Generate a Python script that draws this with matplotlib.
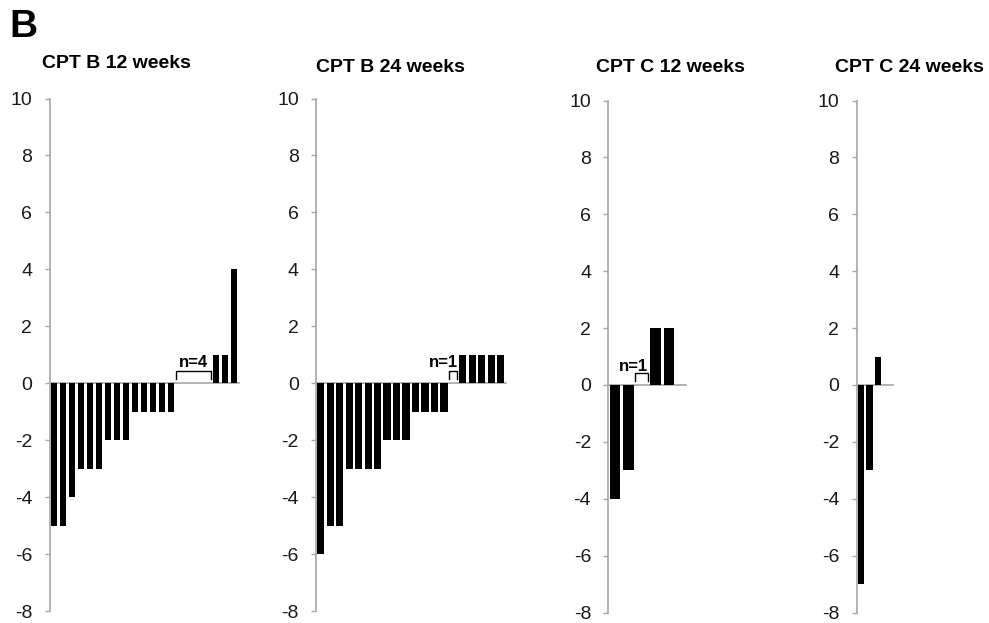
import matplotlib
matplotlib.use("Agg")
import matplotlib.pyplot as plt

# ---- data ----
panel_letter = "B"
titles = ["CPT B 12 weeks", "CPT B 24 weeks", "CPT C 12 weeks", "CPT C 24 weeks"]
cpt_b_12 = [-5, -5, -4, -3, -3, -3, -2, -2, -2, -1, -1, -1, -1, -1, 0, 0, 0, 0, 1, 1, 4]
cpt_b_24 = [-6, -5, -5, -3, -3, -3, -3, -2, -2, -2, -1, -1, -1, -1, 0, 1, 1, 1, 1, 1]
cpt_c_12 = [-4, -3, 0, 2, 2]
cpt_c_24 = [-7, -3, 1]
series = [cpt_b_12, cpt_b_24, cpt_c_12, cpt_c_24]
y_ticks = [-8, -6, -4, -2, 0, 2, 4, 6, 8, 10]

# ---- layout (pixels) ----
W, H = 989, 623
# x0, x1, y_top(10), y_bottom(-8)
rects = [(49.5, 238.5, 98.5, 611.0),
         (316.0, 505.5, 98.5, 611.0),
         (608.3, 686.0, 100.5, 612.5),
         (856.5, 892.7, 100.5, 612.5)]
x_right = [20.5, 19.5, 5.26, 3.7]
title_pos = [(116, 63), (390, 68), (670, 68), (909.5, 68)]
# (x offset of label from bracket centre in slots, label baseline y in data units)
label_style = [(0.0, 0.58), (-1.05, 0.57), (-0.6, 0.5), None]

GRAY = "#a6a6a6"
FONT = ["Liberation Sans", "DejaVu Sans"]
plt.rcParams["font.family"] = FONT
plt.rcParams["axes.unicode_minus"] = False

fig = plt.figure(figsize=(W / 100, H / 100), dpi=100)

for vals, title, (x0, x1, yt, yb), xr, tpos, lst in zip(
        series, titles, rects, x_right, title_pos, label_style):
    ax = fig.add_axes([x0 / W, (H - yb) / H, (x1 - x0) / W, (yb - yt) / H])
    xs = list(range(len(vals)))
    ax.bar(xs, vals, width=0.76, color="black", edgecolor="none", zorder=3)
    ax.set_xlim(-0.5, xr)
    ax.set_ylim(-8, 10)
    ax.set_yticks(y_ticks)
    ax.set_xticks([])
    for s in ["top", "right"]:
        ax.spines[s].set_visible(False)
    ax.spines["bottom"].set_position(("data", 0))
    ax.spines["bottom"].set_color(GRAY)
    ax.spines["bottom"].set_linewidth(1.2)
    ax.spines["left"].set_color(GRAY)
    ax.spines["left"].set_linewidth(1.2)
    ax.tick_params(axis="y", length=3.4, width=1.0, color=GRAY,
                   labelsize=14, pad=9, labelcolor="#1a1a1a")
    ax.patch.set_visible(False)

    zeros = [i for i, v in enumerate(vals) if v == 0]
    if zeros and lst is not None:
        a, b = zeros[0] - 0.5, zeros[-1] + 0.42
        ax.plot([a, a, b, b], [0.15, 0.43, 0.43, 0.15], color="black",
                lw=1.0, zorder=4, solid_joinstyle="miter")
        cx = (a + b) / 2 + lst[0]
        ax.text(cx, lst[1], f"n={len(zeros)}", ha="center", va="baseline",
                fontsize=12, fontweight="bold", zorder=5)

    fig.text(tpos[0] / W, 1 - tpos[1] / H, title, ha="center", va="center",
             fontsize=14, fontweight="bold")

fig.text(9 / W, 1 - 27 / H, panel_letter, ha="left", va="center",
         fontsize=28, fontweight="bold")

fig.savefig("out.png", dpi=100)
